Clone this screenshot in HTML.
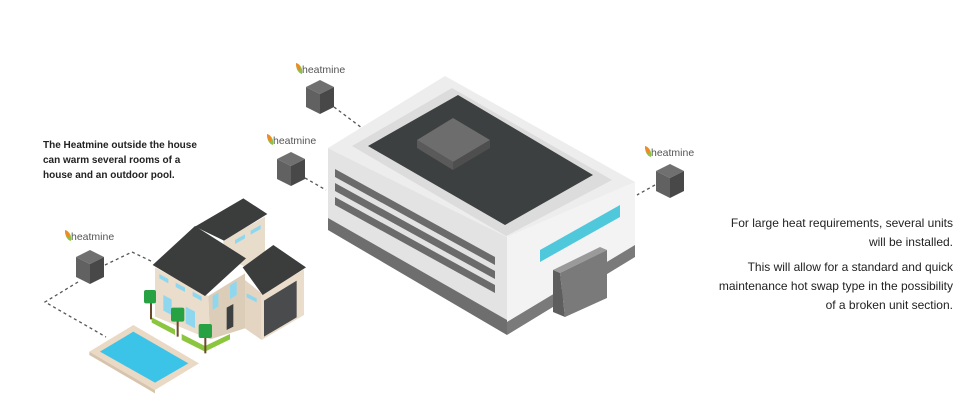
<!DOCTYPE html>
<html><head><meta charset="utf-8"><style>
html,body{margin:0;padding:0;background:#fff;}
body{width:980px;height:403px;position:relative;overflow:hidden;font-family:"Liberation Sans",sans-serif;}
svg{position:absolute;left:0;top:0;}
.t1{position:absolute;left:43px;top:138px;font-size:10px;font-weight:bold;line-height:15px;color:#222;}
.t2{position:absolute;right:27px;top:214px;font-size:12px;line-height:19px;color:#222;text-align:right;}
.t2 p{margin:0 0 6px 0;}
</style></head><body>
<svg width="980" height="403" viewBox="0 0 980 403">
<defs>
<g id="cube">
<polygon points="-14,7 0,0 14,7 0,14" fill="#707070"/>
<polygon points="-14,7 0,14 0,34 -14,27" fill="#616161"/>
<polygon points="0,14 14,7 14,27 0,34" fill="#484848"/>
</g>
<g id="logo">
<path d="M0,0 C5,2 7,6 6,11 C2,10 0,6 0,0Z" fill="#8bc34a"/>
<path d="M0,0 C4,1 5,4 4,8 C1,7 0,4 0,0Z" fill="#f08a24"/>
<text x="6" y="10" font-family="Liberation Sans,sans-serif" font-size="10.5" fill="#555">heatmine</text>
</g>
</defs>
<!-- dashed connectors -->
<g stroke="#555" stroke-width="1.3" stroke-dasharray="3,3" fill="none">
<polyline points="334,107 362,128"/>
<polyline points="305,178 326,190"/>
<polyline points="655,185 637,195"/>
<polyline points="105,265 132,252 153,262"/>
<polyline points="78,282 45,302 106,337"/>
</g>
<!-- units -->
<use href="#cube" x="320" y="80"/>
<use href="#cube" x="291" y="152"/>
<use href="#cube" x="670" y="164"/>
<use href="#cube" x="90" y="250"/>
<use href="#logo" x="296" y="63"/>
<use href="#logo" x="267" y="134"/>
<use href="#logo" x="645" y="146"/>
<use href="#logo" x="65" y="230"/>
<!-- building -->
<polygon points="328,148 507,237 507,335 328,230" fill="#e3e3e3"/>
<polygon points="328,218 507,320 507,335 328,230" fill="#6e6e6e"/>
<polygon points="507,237 635,182 635,257 507,335" fill="#f3f3f3"/>
<polygon points="507,322 635,245 635,257 507,335" fill="#7a7a7a"/>
<polygon points="328,148 445,76 635,182 507,237" fill="#ededed"/>
<polygon points="352,146 452,88 612,180 506,236" fill="#dcdcdc"/>
<polygon points="368,146 458,95 593,175 505,225" fill="#3d4040"/>
<polygon points="417,140 453,118 490,140 453,162" fill="#6d6d6d"/>
<polygon points="417,140 453,162 453,170 417,148" fill="#5a5a5a"/>
<polygon points="453,162 490,140 490,148 453,170" fill="#4e4e4e"/>
<g fill="#6b6b6b">
<polygon points="335,169 495,257 495,265 335,177"/>
<polygon points="335,183 495,271 495,279 335,191"/>
<polygon points="335,197 495,285 495,293 335,205"/>
</g>
<polygon points="540,250 620,205 620,217 540,262" fill="#4fc8dc"/>
<polygon points="553,270 600,247 607,250 560,273" fill="#9a9a9a"/>
<polygon points="553,270 560,273 565,317 553,312" fill="#5e5e5e"/>
<polygon points="560,273 607,250 607,298 565,317" fill="#7a7a7a"/>
<!-- house -->
<g transform="translate(0,180) scale(0.33333)">
<!-- pool -->
<polygon points="268,515 400,435 597,550 465,630" fill="#ead9c4"/>
<polygon points="268,515 465,630 465,640 268,525" fill="#d7c4ad"/>
<polygon points="300,515 400,455 565,550 465,608" fill="#3cc3e8"/>
<!-- tower -->
<polygon points="670,180 795,110 795,225 735,260 670,230" fill="#e8dccb"/>
<polygon points="585,140 730,55 802,102 672,182" fill="#3b3c3c"/>
<!-- main walls -->
<polygon points="465,262 625,348 630,478 465,410" fill="#ebddcb"/>
<polygon points="625,348 735,280 735,445 630,478" fill="#dccdb9"/>
<polygon points="458,255 585,138 738,235 615,348" fill="#3b3c3c"/>
<!-- garage -->
<polygon points="735,300 785,340 785,480 735,445" fill="#e3d5c2"/>
<polygon points="785,340 912,268 912,405 785,480" fill="#ebddcb"/>
<polygon points="792,362 890,302 890,412 792,470" fill="#4a4b4d"/>
<polygon points="728,262 820,195 918,262 788,345" fill="#3b3c3c"/>
<!-- windows -->
<g fill="#8fd7ef">
<polygon points="478,282 505,297 505,310 478,295"/>
<polygon points="527,308 555,323 555,336 527,321"/>
<polygon points="578,335 605,350 605,363 578,348"/>
<polygon points="490,345 515,358 515,405 490,392"/>
<polygon points="557,380 585,395 585,445 557,430"/>
<polygon points="638,348 655,338 655,380 638,390"/>
<polygon points="690,315 710,303 710,345 690,357"/>
<polygon points="705,180 735,163 735,175 705,192"/>
<polygon points="752,152 782,135 782,147 752,164"/>
<polygon points="740,340 770,355 770,367 740,352"/>
</g>
<polygon points="680,383 700,372 700,440 680,450" fill="#3d3f40"/>
<!-- hedges & trees -->
<polygon points="455,412 525,448 525,465 455,428" fill="#8cc63f"/>
<polygon points="545,462 615,498 690,462 690,478 615,515 545,480" fill="#8cc63f"/>
<g fill="#6b4a2b"><rect x="450" y="360" width="6" height="58"/><rect x="530" y="415" width="6" height="55"/><rect x="613" y="465" width="6" height="55"/></g>
<g fill="#27a243">
<rect x="432" y="330" width="36" height="40" rx="6"/>
<rect x="513" y="383" width="40" height="42" rx="6"/>
<rect x="596" y="432" width="40" height="42" rx="6"/>
</g>
</g>
</svg>
<div class="t1">The Heatmine outside the house<br>can warm several rooms of a<br>house and an outdoor pool.</div>
<div class="t2"><p>For large heat requirements, several units<br>will be installed.</p><p>This will allow for a standard and quick<br>maintenance hot swap type in the possibility<br>of a broken unit section.</p></div>
</body></html>
